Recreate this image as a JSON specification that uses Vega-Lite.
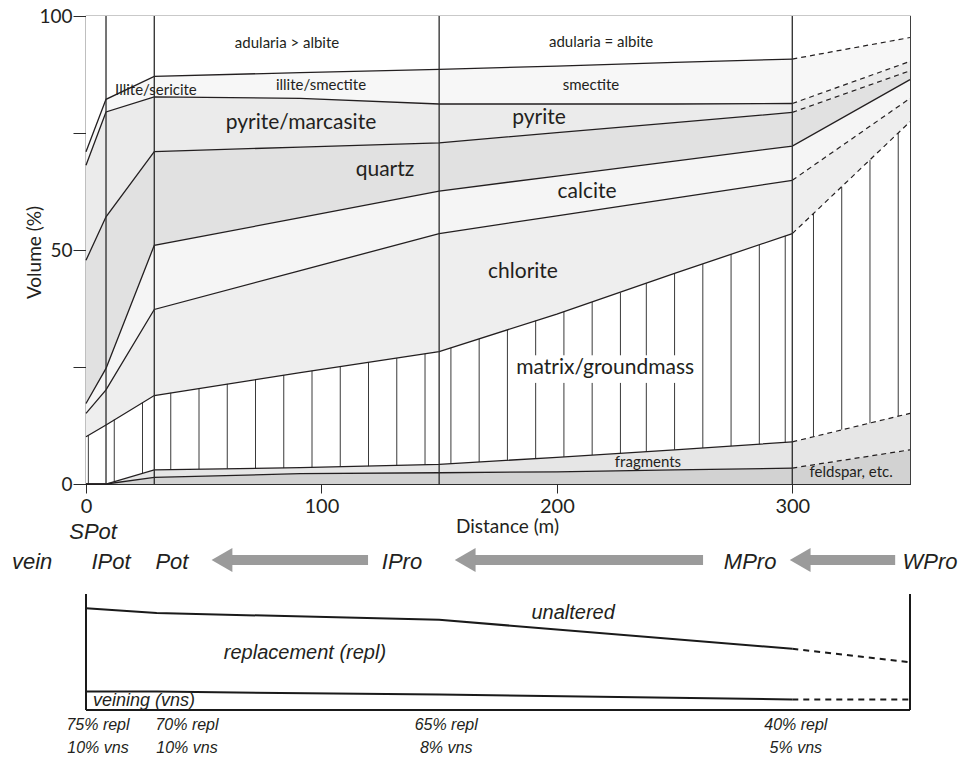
{
  "$schema": "https://vega.github.io/schema/vega-lite/v6.json",
  "width": 824,
  "height": 468,
  "autosize": {"type": "none"},
  "padding": {"left": 86, "top": 16, "right": 52, "bottom": 273},
  "background": "white",
  "config": {
    "view": {"stroke": "#2b2b2b", "strokeWidth": 1.2},
    "font": "Lato",
    "axis": {"labelFont": "Lato", "titleFont": "Lato", "labelColor": "#231f20", "titleColor": "#231f20", "tickColor": "#2b2b2b", "domainColor": "#2b2b2b", "grid": false}
  },
  "datasets": {
    "phases": [
      {"x": 0, "feldspar": 0, "fragments": 0, "matrix": 10.1, "chlorite": 5.0, "calcite": 2.1, "quartz": 30.6, "pyrite": 20.3, "illite": 2.9, "adularia": 29.0},
      {"x": 8.5, "feldspar": 0, "fragments": 0, "matrix": 12.6, "chlorite": 7.5, "calcite": 4.6, "quartz": 32.4, "pyrite": 22.4, "illite": 2.7, "adularia": 17.8},
      {"x": 29, "feldspar": 1.4, "fragments": 1.6, "matrix": 15.9, "chlorite": 18.4, "calcite": 13.7, "quartz": 20.0, "pyrite": 11.7, "illite": 4.4, "adularia": 12.9},
      {"x": 91, "feldspar": 2.2, "fragments": 1.3, "matrix": 20.3, "chlorite": 21.8, "calcite": 11.3, "quartz": 15.1, "pyrite": 10.4, "illite": 5.5, "adularia": 12.1},
      {"x": 150, "feldspar": 2.4, "fragments": 1.8, "matrix": 24.1, "chlorite": 25.2, "calcite": 9.1, "quartz": 10.3, "pyrite": 8.3, "illite": 7.4, "adularia": 11.4},
      {"x": 200, "feldspar": 2.6, "fragments": 3.1, "matrix": 30.6, "chlorite": 21.0, "calcite": 8.5, "quartz": 9.3, "pyrite": 6.1, "illite": 8.1, "adularia": 10.7},
      {"x": 250, "feldspar": 3.0, "fragments": 4.3, "matrix": 37.7, "chlorite": 16.1, "calcite": 7.9, "quartz": 8.2, "pyrite": 4.0, "illite": 8.9, "adularia": 9.9},
      {"x": 300, "feldspar": 3.4, "fragments": 5.6, "matrix": 44.5, "chlorite": 11.4, "calcite": 7.3, "quartz": 7.2, "pyrite": 1.9, "illite": 9.5, "adularia": 9.2},
      {"x": 350, "feldspar": 7.3, "fragments": 7.8, "matrix": 62.3, "chlorite": 5.0, "calcite": 4.0, "quartz": 1.9, "pyrite": 2.0, "illite": 5.1, "adularia": 4.6}
    ],
    "hatch": [
      {"x": 1, "lo": 0, "hi": 10.4},
      {"x": 12, "lo": 0.5, "hi": 13.8},
      {"x": 24, "lo": 2.3, "hi": 17.4},
      {"x": 36, "lo": 3.1, "hi": 19.5},
      {"x": 48, "lo": 3.2, "hi": 20.4},
      {"x": 60, "lo": 3.3, "hi": 21.4},
      {"x": 72, "lo": 3.4, "hi": 22.3},
      {"x": 84, "lo": 3.4, "hi": 23.3},
      {"x": 96, "lo": 3.6, "hi": 24.2},
      {"x": 108, "lo": 3.7, "hi": 25.1},
      {"x": 120, "lo": 3.8, "hi": 26.0},
      {"x": 132, "lo": 4.0, "hi": 26.9},
      {"x": 144, "lo": 4.1, "hi": 27.8},
      {"x": 155, "lo": 4.4, "hi": 29.1},
      {"x": 167, "lo": 4.7, "hi": 31.0},
      {"x": 179, "lo": 5.1, "hi": 32.9},
      {"x": 191, "lo": 5.4, "hi": 21.6},
      {"x": 191, "lo": 27.5, "hi": 34.9},
      {"x": 203, "lo": 5.8, "hi": 21.6},
      {"x": 203, "lo": 27.5, "hi": 36.8},
      {"x": 215, "lo": 6.2, "hi": 21.6},
      {"x": 215, "lo": 27.5, "hi": 38.9},
      {"x": 227, "lo": 6.6, "hi": 21.6},
      {"x": 227, "lo": 27.5, "hi": 40.9},
      {"x": 238, "lo": 6.9, "hi": 21.6},
      {"x": 238, "lo": 27.5, "hi": 42.9},
      {"x": 250, "lo": 7.3, "hi": 21.6},
      {"x": 250, "lo": 27.5, "hi": 45.0},
      {"x": 262, "lo": 7.7, "hi": 47.0},
      {"x": 274, "lo": 8.1, "hi": 49.1},
      {"x": 286, "lo": 8.5, "hi": 51.1},
      {"x": 297, "lo": 8.9, "hi": 53.0},
      {"x": 309, "lo": 10.1, "hi": 57.8},
      {"x": 321, "lo": 11.6, "hi": 63.5},
      {"x": 333, "lo": 13.0, "hi": 69.2},
      {"x": 345, "lo": 14.5, "hi": 75.0}
    ],
    "dividers": [{"x": 8.5}, {"x": 29}, {"x": 150}, {"x": 300}],
    "bigLabels": [
      {"x": 91.3, "y": 77.1, "label": "pyrite/marcasite"},
      {"x": 192.4, "y": 78.2, "label": "pyrite"},
      {"x": 127.0, "y": 67.1, "label": "quartz"},
      {"x": 212.8, "y": 62.4, "label": "calcite"},
      {"x": 185.6, "y": 45.4, "label": "chlorite"},
      {"x": 220.5, "y": 24.8, "label": "matrix/groundmass"}
    ],
    "smallLabels": [
      {"x": 85.4, "y": 94.2, "label": "adularia > albite"},
      {"x": 218.8, "y": 94.4, "label": "adularia = albite"},
      {"x": 29.7, "y": 84.2, "label": "Illite/sericite"},
      {"x": 99.8, "y": 85.3, "label": "illite/smectite"},
      {"x": 214.5, "y": 85.3, "label": "smectite"},
      {"x": 238.7, "y": 4.7, "label": "fragments"},
      {"x": 325.0, "y": 2.6, "label": "feldspar, etc."}
    ],
    "zones": [
      {"x": -22.9, "row": "lower", "label": "vein"},
      {"x": 3.0, "row": "upper", "label": "SPot"},
      {"x": 10.6, "row": "lower", "label": "IPot"},
      {"x": 36.5, "row": "lower", "label": "Pot"},
      {"x": 134.2, "row": "lower", "label": "IPro"},
      {"x": 282.1, "row": "lower", "label": "MPro"},
      {"x": 358.5, "row": "lower", "label": "WPro"}
    ],
    "arrows": [
      {"from": 119.8, "to": 53.5, "row": "lower"},
      {"from": 262.1, "to": 156.8, "row": "lower"},
      {"from": 343.7, "to": 299.1, "row": "lower"}
    ],
    "alteration": [
      {"x": 0, "zone": "veining", "pct": 10},
      {"x": 0, "zone": "replacement", "pct": 75},
      {"x": 30, "zone": "veining", "pct": 10},
      {"x": 30, "zone": "replacement", "pct": 70},
      {"x": 150, "zone": "veining", "pct": 8},
      {"x": 150, "zone": "replacement", "pct": 65},
      {"x": 300, "zone": "veining", "pct": 5},
      {"x": 300, "zone": "replacement", "pct": 40},
      {"x": 350, "zone": "veining", "pct": 5},
      {"x": 350, "zone": "replacement", "pct": 28}
    ],
    "sides": [{"x": 0}, {"x": 350}],
    "zoneNames": [
      {"x": 206.9, "pct": 80, "label": "unaltered"},
      {"x": 93.0, "pct": 41, "label": "replacement (repl)"}
    ],
    "veinName": [{"x": 24.6, "pct": 4.3, "label": "veining (vns)"}],
    "shares": [
      {"x": 5.1, "label": "75% repl\n10% vns"},
      {"x": 42.9, "label": "70% repl\n10% vns"},
      {"x": 153.0, "label": "65% repl\n8% vns"},
      {"x": 301.5, "label": "40% repl\n5% vns"}
    ]
  },
  "resolve": {"scale": {"y": "independent"}},
  "layer": [
    {
      "layer": [
        {
          "data": {"name": "phases"},
          "transform": [
            {"fold": ["feldspar", "fragments", "matrix", "chlorite", "calcite", "quartz", "pyrite", "illite", "adularia"], "as": ["phase", "vol"]},
            {"stack": "vol", "groupby": ["x"], "as": ["bot", "top"]}
          ],
          "mark": {"type": "area", "interpolate": "linear", "opacity": 1, "fillOpacity": 1, "strokeWidth": 0},
          "encoding": {
            "x": {
              "field": "x", "type": "quantitative",
              "scale": {"domain": [0, 350], "nice": false, "zero": false},
              "axis": {
                "values": [0, 100, 200, 300], "title": "Distance (m)",
                "tickSize": 9, "labelPadding": 3, "labelFontSize": 20, "labelFlush": false,
                "titleFontSize": 19, "titleFontWeight": "normal",
                "titleX": 421, "titleY": 48, "titleBaseline": "alphabetic", "titleAlign": "center"
              }
            },
            "y": {
              "field": "top", "type": "quantitative",
              "scale": {"domain": [0, 100], "nice": false},
              "axis": {
                "values": [0, 25, 50, 75, 100],
                "labelExpr": "datum.value % 50 === 0 ? datum.label : ''",
                "title": "Volume (%)", "tickSize": 13, "labelPadding": 1, "labelFontSize": 19, "labelFlush": false,
                "titleFontSize": 19, "titleFontWeight": "normal", "titleAngle": 270,
                "titleX": -46, "titleY": 236, "titleBaseline": "alphabetic", "titleAlign": "center"
              }
            },
            "y2": {"field": "bot"},
            "color": {
              "field": "phase", "type": "nominal", "legend": null,
              "scale": {
                "domain": ["feldspar", "fragments", "matrix", "chlorite", "calcite", "quartz", "pyrite", "illite", "adularia"],
                "range": ["#d2d2d2", "#e6e6e6", "#ffffff", "#eeeeee", "#f5f5f5", "#e1e1e1", "#ebebeb", "#f7f7f7", "#ffffff"]
              }
            }
          }
        },
        {
          "data": {"name": "hatch"},
          "mark": {"type": "rule", "color": "#3a3a3a", "strokeWidth": 1},
          "encoding": {
            "x": {"field": "x", "type": "quantitative"},
            "y": {"field": "lo", "type": "quantitative"},
            "y2": {"field": "hi"}
          }
        },
        {
          "data": {"name": "phases"},
          "transform": [
            {"fold": ["feldspar", "fragments", "matrix", "chlorite", "calcite", "quartz", "pyrite", "illite", "adularia"], "as": ["phase", "vol"]},
            {"stack": "vol", "groupby": ["x"], "as": ["bot", "top"]},
            {"filter": "datum.phase != 'adularia' && (datum.x <= 300 || datum.phase == 'calcite')"}
          ],
          "mark": {"type": "line", "color": "#231f20", "strokeWidth": 1.3},
          "encoding": {
            "x": {"field": "x", "type": "quantitative"},
            "y": {"field": "top", "type": "quantitative"},
            "detail": {"field": "phase"}
          }
        },
        {
          "data": {"name": "phases"},
          "transform": [
            {"fold": ["feldspar", "fragments", "matrix", "chlorite", "calcite", "quartz", "pyrite", "illite", "adularia"], "as": ["phase", "vol"]},
            {"stack": "vol", "groupby": ["x"], "as": ["bot", "top"]},
            {"filter": "datum.x >= 300 && datum.phase != 'adularia' && datum.phase != 'calcite'"}
          ],
          "mark": {"type": "line", "color": "#231f20", "strokeWidth": 1.2, "strokeDash": [5, 4]},
          "encoding": {
            "x": {"field": "x", "type": "quantitative"},
            "y": {"field": "top", "type": "quantitative"},
            "detail": {"field": "phase"}
          }
        },
        {
          "data": {"name": "dividers"},
          "mark": {"type": "rule", "color": "#2b2b2b", "strokeWidth": 1.3},
          "encoding": {
            "x": {"field": "x", "type": "quantitative"},
            "y": {"datum": 0, "type": "quantitative"},
            "y2": {"datum": 100}
          }
        },
        {
          "data": {"name": "bigLabels"},
          "mark": {"type": "text", "font": "Lato", "fontSize": 21, "align": "center", "baseline": "middle", "color": "#231f20"},
          "encoding": {
            "x": {"field": "x", "type": "quantitative"},
            "y": {"field": "y", "type": "quantitative"},
            "text": {"field": "label"}
          }
        },
        {
          "data": {"name": "smallLabels"},
          "mark": {"type": "text", "font": "Lato", "fontSize": 15, "align": "center", "baseline": "middle", "color": "#231f20"},
          "encoding": {
            "x": {"field": "x", "type": "quantitative"},
            "y": {"field": "y", "type": "quantitative"},
            "text": {"field": "label"}
          }
        }
      ]
    },
    {
      "layer": [
        {
          "data": {"name": "arrows"},
          "mark": {"type": "rule", "color": "#9b9b9b", "strokeWidth": 10, "strokeCap": "butt", "x2Offset": 14, "yOffset": -2},
          "encoding": {
            "x": {"field": "from", "type": "quantitative"},
            "x2": {"field": "to"},
            "y": {"field": "row", "type": "ordinal", "scale": {"type": "point", "domain": ["upper", "lower"], "range": [516, 546], "padding": 0}, "axis": null}
          }
        },
        {
          "data": {"name": "arrows"},
          "mark": {"type": "point", "shape": "triangle-left", "filled": true, "size": 576, "color": "#9b9b9b", "opacity": 1, "xOffset": 10, "yOffset": -2},
          "encoding": {
            "x": {"field": "to", "type": "quantitative"},
            "y": {"field": "row", "type": "ordinal", "scale": {"type": "point", "domain": ["upper", "lower"], "range": [516, 546], "padding": 0}, "axis": null}
          }
        },
        {
          "data": {"name": "zones"},
          "mark": {"type": "text", "font": "Liberation Sans", "fontStyle": "italic", "fontSize": 22, "align": "center", "baseline": "middle", "color": "#231f20"},
          "encoding": {
            "x": {"field": "x", "type": "quantitative"},
            "y": {"field": "row", "type": "ordinal", "scale": {"type": "point", "domain": ["upper", "lower"], "range": [516, 546], "padding": 0}, "axis": null},
            "text": {"field": "label"}
          }
        }
      ]
    },
    {
      "layer": [
        {
          "data": {"name": "sides"},
          "mark": {"type": "rule", "color": "#1a1a1a", "strokeWidth": 2},
          "encoding": {
            "x": {"field": "x", "type": "quantitative"},
            "y": {"datum": 0, "type": "quantitative", "scale": {"type": "pow", "exponent": 0.8, "domain": [0, 100], "range": [694, 578]}, "axis": null},
            "y2": {"datum": 100}
          }
        },
        {
          "data": {"name": "alteration"},
          "transform": [
            {"stack": "pct", "groupby": ["x"], "as": ["p0", "p1"]},
            {"filter": "datum.x <= 300"}
          ],
          "mark": {"type": "line", "color": "#1a1a1a", "strokeWidth": 2},
          "encoding": {
            "x": {"field": "x", "type": "quantitative"},
            "y": {"field": "p1", "type": "quantitative", "scale": {"type": "pow", "exponent": 0.8, "domain": [0, 100], "range": [694, 578]}, "axis": null},
            "detail": {"field": "zone"}
          }
        },
        {
          "data": {"name": "alteration"},
          "transform": [
            {"stack": "pct", "groupby": ["x"], "as": ["p0", "p1"]},
            {"filter": "datum.x >= 300"}
          ],
          "mark": {"type": "line", "color": "#1a1a1a", "strokeWidth": 2, "strokeDash": [6, 5]},
          "encoding": {
            "x": {"field": "x", "type": "quantitative"},
            "y": {"field": "p1", "type": "quantitative", "scale": {"type": "pow", "exponent": 0.8, "domain": [0, 100], "range": [694, 578]}, "axis": null},
            "detail": {"field": "zone"}
          }
        },
        {
          "data": {"name": "alteration"},
          "transform": [
            {"stack": "pct", "groupby": ["x"], "as": ["p0", "p1"]},
            {"filter": "datum.zone == 'veining'"}
          ],
          "mark": {"type": "line", "color": "#1a1a1a", "strokeWidth": 2},
          "encoding": {
            "x": {"field": "x", "type": "quantitative"},
            "y": {"field": "p0", "type": "quantitative", "scale": {"type": "pow", "exponent": 0.8, "domain": [0, 100], "range": [694, 578]}, "axis": null}
          }
        },
        {
          "data": {"name": "zoneNames"},
          "mark": {"type": "text", "font": "Liberation Sans", "fontStyle": "italic", "fontSize": 20, "align": "center", "baseline": "middle", "color": "#231f20"},
          "encoding": {
            "x": {"field": "x", "type": "quantitative"},
            "y": {"field": "pct", "type": "quantitative", "scale": {"type": "pow", "exponent": 0.8, "domain": [0, 100], "range": [694, 578]}, "axis": null},
            "text": {"field": "label"}
          }
        },
        {
          "data": {"name": "veinName"},
          "mark": {"type": "text", "font": "Liberation Sans", "fontStyle": "italic", "fontSize": 18, "align": "center", "baseline": "middle", "color": "#231f20"},
          "encoding": {
            "x": {"field": "x", "type": "quantitative"},
            "y": {"field": "pct", "type": "quantitative", "scale": {"type": "pow", "exponent": 0.8, "domain": [0, 100], "range": [694, 578]}, "axis": null},
            "text": {"field": "label"}
          }
        },
        {
          "data": {"name": "shares"},
          "mark": {"type": "text", "font": "Liberation Sans", "fontStyle": "italic", "fontSize": 16, "align": "center", "baseline": "top", "dy": 7, "lineBreak": "\n", "lineHeight": 23, "color": "#231f20"},
          "encoding": {
            "x": {"field": "x", "type": "quantitative"},
            "y": {"datum": 0, "type": "quantitative", "scale": {"type": "pow", "exponent": 0.8, "domain": [0, 100], "range": [694, 578]}, "axis": null},
            "text": {"field": "label"}
          }
        }
      ]
    }
  ]
}
